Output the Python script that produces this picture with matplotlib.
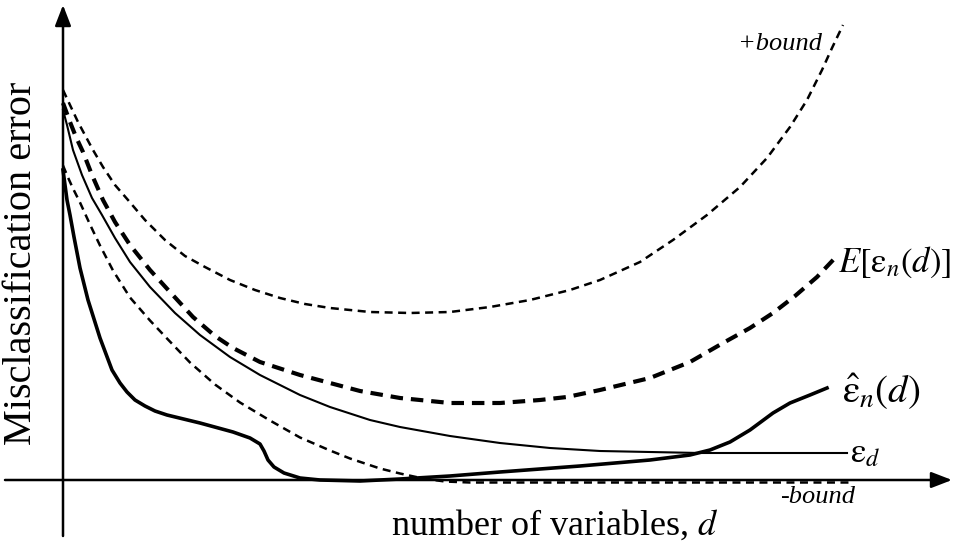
import matplotlib.pyplot as plt
from matplotlib import transforms

plt.rcParams["font.family"] = ["Liberation Serif", "DejaVu Serif"]
plt.rcParams["mathtext.fontset"] = "stix"

# curves: d (number of variables) vs misclassification error, schematic units
d_upper = [0, 7, 15, 23, 30, 40, 52, 65, 82, 102, 122, 142, 167, 192, 217, 242, 267,
           307, 347, 387, 427, 467, 507, 537, 577, 610, 644, 677, 704, 727, 744, 759, 769, 780]
upper_bound = [390, 375, 358, 343, 330, 313, 295, 280, 260, 240, 224, 213, 200, 190, 182, 176, 172,
               168, 167, 168, 173, 180, 190, 200, 218, 240, 265, 293, 322, 353, 380, 410, 432, 455]

d_expected = [0, 7, 13, 20, 29, 40, 52, 67, 87, 107, 130, 152, 170, 197, 237, 267,
              297, 337, 387, 437, 477, 504, 537, 587, 627, 660, 687, 710, 732, 754, 772]
expected_err = [377, 358, 343, 328, 305, 280, 258, 235, 210, 188, 163, 144, 132, 118, 105, 97,
                89, 82, 77, 77, 80, 83, 90, 102, 118, 137, 152, 167, 184, 203, 222]

d_bayes = [0, 4, 10, 19, 29, 39, 52, 67, 87, 112, 137, 167, 197, 237, 267, 307,
           337, 387, 437, 487, 537, 587, 637, 784]
bayes_err = [370, 355, 330, 305, 282, 265, 242, 218, 193, 167, 145, 123, 105, 85, 73, 60,
             53, 44, 37, 32, 29, 28, 27, 27]

d_apparent = [0, 2, 4, 7, 11, 17, 25, 37, 49, 57, 64, 72, 82, 92, 104, 137, 170, 187, 197, 201, 205,
              211, 221, 237, 257, 297, 337, 387, 437, 517, 587, 627, 647, 667, 687, 710, 727, 747, 764]
apparent_err = [310, 295, 280, 265, 243, 212, 180, 142, 110, 97, 88, 80, 74, 69, 65, 57, 48, 42,
                36, 29, 20, 13, 7, 2, 0, -1, 1, 4, 8, 14, 20, 25, 30, 38, 50, 67, 77, 85, 92]

d_lower = [0, 5, 10, 17, 27, 37, 50, 67, 87, 104, 127, 152, 177, 207, 237, 267,
           287, 317, 337, 360, 382, 407, 787]
lower_bound = [317, 305, 294, 280, 258, 237, 212, 185, 162, 144, 120, 98, 80, 62, 45, 32,
               24, 14, 9, 4, 1, 0, 0]

fig = plt.figure(figsize=(9.63, 5.56), dpi=100)
ax = fig.add_axes([0, 0, 1, 1])
ax.set_xlim(-63, 900)
ax.set_ylim(-76, 480)
ax.axis("off")

ax.plot(d_upper, upper_bound, color="k", lw=1.8, dashes=(3.2, 2.2))
ax.plot(d_expected, expected_err, color="k", lw=3.0, dashes=(3.0, 1.9))
ax.plot(d_bayes, bayes_err, color="k", lw=1.5)
ax.plot(d_apparent, apparent_err, color="k", lw=2.6)
# lower bound sits on the d axis once it hits zero; nudge it just under the axis line
below = transforms.offset_copy(ax.transData, fig=fig, y=-2.5, units="dots")
ax.plot(d_lower, lower_bound, color="k", lw=1.8, dashes=(3.2, 2.2), transform=below)

# axes with arrow heads
arrow = dict(arrowstyle="-|>,head_length=0.7,head_width=0.27", lw=1.8, color="k",
             mutation_scale=18, shrinkA=0, shrinkB=0)
ax.annotate("", xy=(889, 0), xytext=(-58, 0), arrowprops=arrow)
ax.annotate("", xy=(0, 475), xytext=(0, -56), arrowprops=arrow)

ax.text(-41, 217, "Misclassification error", rotation=90, fontsize=29,
        ha="center", va="center")
ax.text(492, -45, "number of variables, $d$", fontsize=26, ha="center", va="center")

ax.text(759, 430, "+bound", fontsize=19, style="italic", ha="right", va="baseline")
ax.text(717, -23, "-bound", fontsize=19, style="italic", ha="left", va="baseline")
ax.text(775, 208, r"$E[\mathrm{\varepsilon}_n(d)]$", fontsize=25, ha="left", va="baseline")
ax.text(779, 77, r"$\hat{\mathrm{\varepsilon}}_n\left(d\right)$", fontsize=28,
        ha="left", va="baseline")
ax.text(787, 18, r"$\mathrm{\varepsilon}_d$", fontsize=25, ha="left", va="baseline")

fig.savefig("out.png", dpi=100)
